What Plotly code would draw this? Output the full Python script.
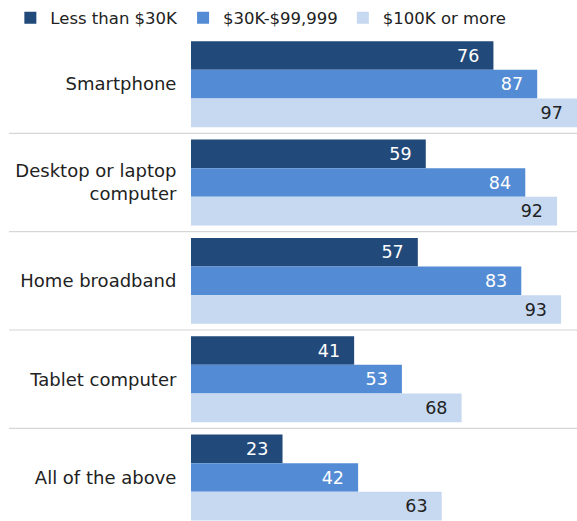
import plotly.graph_objects as go

categories = ["Smartphone", "Desktop or laptop<br>computer", "Home broadband", "Tablet computer", "All of the above"]
series_names = ["Less than $30K", "$30K-$99,999", "$100K or more"]
low_income = [76, 59, 57, 41, 23]
mid_income = [87, 84, 83, 53, 42]
high_income = [97, 92, 93, 68, 63]

colors = ["#21497A", "#538CD4", "#C6D9F1"]
text_colors = ["#FFFFFF", "#FFFFFF", "#222222"]
FONT = "DejaVu Sans"

fig = go.Figure()
for name, vals, col, tcol in zip(series_names, [low_income, mid_income, high_income], colors, text_colors):
    fig.add_trace(go.Bar(
        name=name, y=categories, x=vals, orientation="h",
        marker=dict(color=col, line=dict(width=0)),
        texttemplate="%{x}\u00a0\u00a0", textposition="inside", insidetextanchor="end",
        textfont=dict(family=FONT, size=17.5, color=tcol),
        hoverinfo="skip",
    ))

shapes = []
for i in range(len(categories) - 1):
    shapes.append(dict(type="line", xref="paper", yref="y",
                       x0=-0.4715, x1=1, y0=i + 0.5, y1=i + 0.5,
                       line=dict(color="#D6D6D6", width=1.2)))

fig.update_layout(
    width=577, height=521,
    margin=dict(l=191, r=0, t=35, b=0, autoexpand=False),
    barmode="group", bargap=0.126, bargroupgap=0,
    plot_bgcolor="white", paper_bgcolor="white",
    font=dict(family=FONT, size=17, color="#222222"),
    showlegend=True,
    legend=dict(orientation="h", x=-0.468, xanchor="left", y=1.035, yanchor="middle",
                font=dict(family=FONT, size=16.5, color="#222222"),
                traceorder="normal",
                bgcolor="rgba(0,0,0,0)"),
    xaxis=dict(range=[0, 97], visible=False, showgrid=False, zeroline=False, fixedrange=True),
    yaxis=dict(range=[4.442, -0.5], showgrid=False, zeroline=False, showline=False,
               automargin=False, fixedrange=True,
               ticks="outside", ticklen=10, tickcolor="rgba(0,0,0,0)",
               tickfont=dict(family=FONT, size=18, color="#222222")),
    shapes=shapes,
)

fig.write_html("out.html", config={"displayModeBar": False},
               post_script="document.body.style.margin='0';")
